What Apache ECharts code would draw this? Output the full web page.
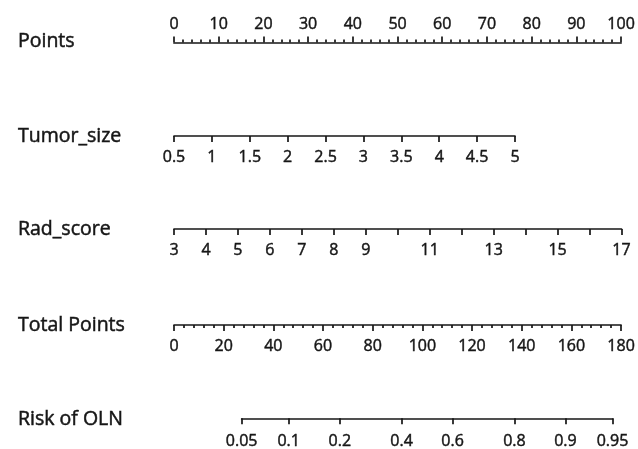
<!DOCTYPE html>
<html>
<head>
<meta charset="utf-8">
<script src="https://cdn.jsdelivr.net/npm/echarts@6/dist/echarts.min.js"></script>
<style>
html,body{margin:0;padding:0;background:#fff;}
#chart{width:638px;height:449px;}
</style>
</head>
<body>
<div id="chart"></div>
<script>
// ---- Data ----
const rowNames = ["Points", "Tumor_size", "Rad_score", "Total Points", "Risk of OLN"];
const pointsTicks = [0, 10, 20, 30, 40, 50, 60, 70, 80, 90, 100];
const tumorSizeTicks = [0.5, 1, 1.5, 2, 2.5, 3, 3.5, 4, 4.5, 5];
const tumorSizePointsRange = [0, 76.2];      // points given to tumor size 0.5 .. 5
const radScoreTicks = [3, 4, 5, 6, 7, 8, 9, 10, 11, 12, 13, 14, 15, 16, 17];
const radScoreLabels = [3, 4, 5, 6, 7, 8, 9, 11, 13, 15, 17];
const radScorePointsRange = [0, 100];       // points given to rad score 3 .. 17
const totalPointsTicks = [0, 20, 40, 60, 80, 100, 120, 140, 160, 180];
const riskTicks = [0.05, 0.1, 0.2, 0.4, 0.6, 0.8, 0.9, 0.95];
const riskModel = { totalAtHalf: 101.8, totalPerLogit: 25.33 }; // total points = a + b*logit(risk)

// ---- Layout ----
const PLOT_LEFT = 174, PLOT_WIDTH = 447.5;
const rowY = [41.5, 136, 229, 325, 419];
const labelMargins = [9, 13, 13, 13, 15];
const FONT = '"Open Sans", "Noto Sans", sans-serif';
const INK = '#161616';
const LW = 1.7;

const pxPerPoint = PLOT_WIDTH / 100;
const pxPerTotal = PLOT_WIDTH / totalPointsTicks[totalPointsTicks.length - 1];
const totalOfRisk = r => riskModel.totalAtHalf + riskModel.totalPerLogit * Math.log(r / (1 - r));

const axisLineStyle = { show: true, lineStyle: { color: INK, width: LW } };
const labelStyle = { color: INK, fontFamily: FONT, fontSize: 16, textBorderColor: INK, textBorderWidth: 0.45 };

function gridFor(i, left, width, pos) {
  return { left: left, width: width, top: pos === 'top' ? rowY[i] : rowY[i] - 1, height: 1, containLabel: false };
}

const grids = [], xAxes = [], yAxes = [], series = [];
function addRow(i, grid, xAxis) {
  grids.push(grid);
  xAxes.push(Object.assign({ gridIndex: i, type: 'value', splitLine: { show: false }, axisLine: axisLineStyle }, xAxis));
  yAxes.push({ gridIndex: i, type: 'value', show: false, min: 0, max: 1 });
  series.push({ type: 'scatter', xAxisIndex: i, yAxisIndex: i, data: [], silent: true });
}
function lbl(i, extra) { return Object.assign({ margin: labelMargins[i] }, labelStyle, extra); }
function tick(len, extra) { return Object.assign({ show: true, length: len, lineStyle: { color: INK, width: LW } }, extra); }

// Points
addRow(0, gridFor(0, PLOT_LEFT, PLOT_WIDTH, 'top'), {
  position: 'top', min: pointsTicks[0], max: pointsTicks[pointsTicks.length - 1], interval: 10,
  axisTick: tick(6),
  minorTick: { show: true, splitNumber: 5, length: 3, lineStyle: { color: INK, width: LW } },
  axisLabel: lbl(0, { customValues: pointsTicks })
});

// Tumor size
const tsMin = tumorSizeTicks[0], tsMax = tumorSizeTicks[tumorSizeTicks.length - 1];
addRow(1, gridFor(1, PLOT_LEFT + tumorSizePointsRange[0] * pxPerPoint,
  (tumorSizePointsRange[1] - tumorSizePointsRange[0]) * pxPerPoint, 'bottom'), {
  position: 'bottom', min: tsMin, max: tsMax,
  axisTick: tick(6, { customValues: tumorSizeTicks }),
  axisLabel: lbl(1, { customValues: tumorSizeTicks })
});

// Rad score
const rsMin = radScoreTicks[0], rsMax = radScoreTicks[radScoreTicks.length - 1];
addRow(2, gridFor(2, PLOT_LEFT + radScorePointsRange[0] * pxPerPoint,
  (radScorePointsRange[1] - radScorePointsRange[0]) * pxPerPoint, 'bottom'), {
  position: 'bottom', min: rsMin, max: rsMax,
  axisTick: tick(6, { customValues: radScoreTicks }),
  axisLabel: lbl(2, { customValues: radScoreLabels })
});

// Total points
addRow(3, gridFor(3, PLOT_LEFT, PLOT_WIDTH, 'bottom'), {
  position: 'bottom', min: totalPointsTicks[0], max: totalPointsTicks[totalPointsTicks.length - 1], interval: 20,
  axisTick: tick(6),
  minorTick: { show: true, splitNumber: 5, length: 3, lineStyle: { color: INK, width: LW } },
  axisLabel: lbl(3, { customValues: totalPointsTicks })
});

// Risk
const riskTotals = riskTicks.map(totalOfRisk);
const rMin = riskTotals[0], rMax = riskTotals[riskTotals.length - 1];
addRow(4, gridFor(4, PLOT_LEFT + rMin * pxPerTotal, (rMax - rMin) * pxPerTotal, 'bottom'), {
  position: 'bottom', min: rMin, max: rMax,
  axisTick: tick(6, { customValues: riskTotals }),
  axisLabel: lbl(4, {
    customValues: riskTotals, showMinLabel: true, showMaxLabel: true,
    formatter: v => {
      let best = 0;
      riskTotals.forEach((t, k) => { if (Math.abs(t - v) < Math.abs(riskTotals[best] - v)) best = k; });
      return String(riskTicks[best]);
    }
  })
});

const chart = echarts.init(document.getElementById('chart'), null, { renderer: 'canvas' });
chart.setOption({
  animation: false,
  backgroundColor: '#fff',
  grid: grids,
  xAxis: xAxes,
  yAxis: yAxes,
  series: series,
  graphic: rowNames.map((name, i) => ({
    type: 'text', x: 18, y: rowY[i],
    style: { text: name, fill: INK, stroke: INK, lineWidth: 0.5, font: '19.5px ' + FONT, textVerticalAlign: 'middle' }
  }))
});
</script>
</body>
</html>
